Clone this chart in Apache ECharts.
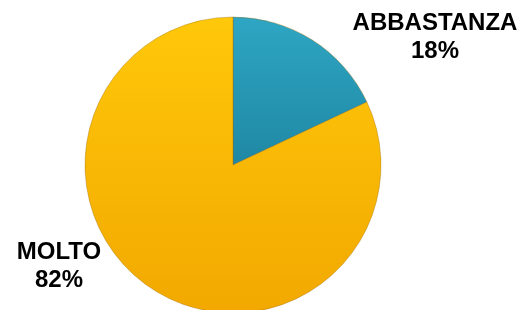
<!DOCTYPE html>
<html>
<head>
<meta charset="utf-8">
<script src="https://cdn.jsdelivr.net/npm/echarts@6/dist/echarts.min.js"></script>
<style>
  html, body { margin: 0; padding: 0; background: #fff; }
  #chart { width: 521px; height: 310px; }
</style>
</head>
<body>
<div id="chart"></div>
<script>
const categories = ['ABBASTANZA', 'MOLTO'];
const values = [18, 82];
const sliceColors = [
  ['#2EA6C3', '#1F88A4'],
  ['#FFC80A', '#F2A800']
];
// where each label block sits (centre)
const labelSpots = [[435, 37], [59, 266]];

const chart = echarts.init(document.getElementById('chart'));

const option = {
  animation: false,
  series: [
    {
      type: 'pie',
      center: [233, 165],
      radius: 148,
      startAngle: 90,
      clockwise: true,
      data: categories.map((name, i) => ({
        name: name,
        value: values[i],
        itemStyle: {
          color: {
            type: 'linear', x: 0, y: 0, x2: 0, y2: 1,
            colorStops: [
              { offset: 0, color: sliceColors[i][0] },
              { offset: 1, color: sliceColors[i][1] }
            ]
          }
        }
      })),
      itemStyle: {
        borderColor: 'rgba(150,100,0,0.35)',
        borderWidth: 1
      },
      label: {
        show: true,
        formatter: '{b}\n{d}%',
        fontFamily: 'Liberation Sans, Arial, sans-serif',
        fontWeight: 'bold',
        fontSize: 24,
        lineHeight: 28,
        color: '#000',
        align: 'center',
        overflow: 'none',
        width: 200
      },
      labelLine: { show: false },
      labelLayout: function (params) {
        const p = labelSpots[params.dataIndex];
        return {
          x: p[0],
          y: p[1],
          align: 'center',
          verticalAlign: 'middle'
        };
      },
      emphasis: { disabled: true }
    }
  ]
};

chart.setOption(option);
</script>
</body>
</html>
